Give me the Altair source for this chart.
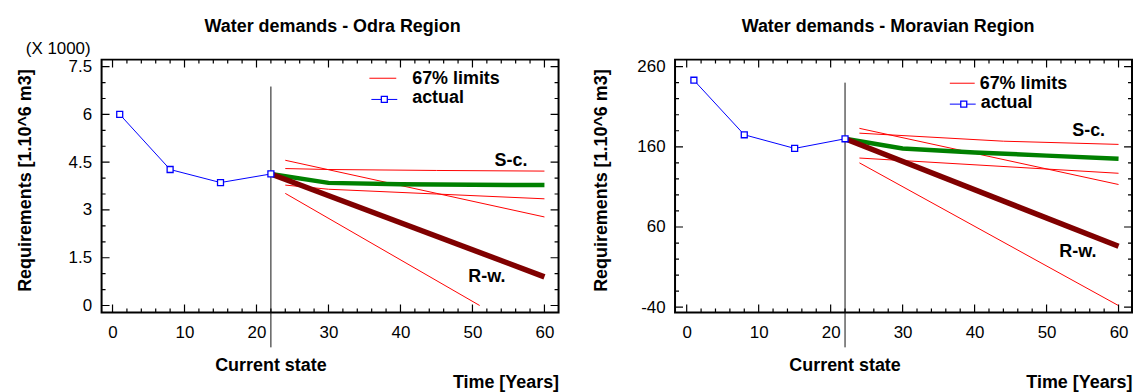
import altair as alt
import pandas as pd

# ---------------- data ----------------
years_actual = [1, 8, 15, 22]
x_major = [0, 10, 20, 30, 40, 50, 60]
x_minor = [2, 4, 6, 8, 12, 14, 16, 18, 22, 24, 26, 28, 32, 34, 36, 38,
           42, 44, 46, 48, 52, 54, 56, 58]

# Odra Region (values x 1000)
odra_actual = [6.0, 4.27, 3.86, 4.13]
odra_sc_years = [22, 30, 40, 50, 60]
odra_sc = [4.13, 3.85, 3.81, 3.79, 3.78]
odra_rw_years = [22, 60]
odra_rw = [4.13, 0.90]
odra_sc_up_years = [24, 30, 45, 60]
odra_sc_up = [4.30, 4.27, 4.24, 4.22]
odra_sc_lo_years = [24, 30, 45, 60]
odra_sc_lo = [3.78, 3.65, 3.50, 3.35]
odra_rw_up_years = [24, 60]
odra_rw_up = [4.56, 2.78]
odra_rw_lo_years = [24, 51]
odra_rw_lo = [3.52, 0.0]
odra_y_major = [0, 1.5, 3, 4.5, 6, 7.5]
odra_y_minor = [0.5, 1, 2, 2.5, 3.5, 4, 5, 5.5, 6.5, 7]

# Moravian Region
morav_actual = [243, 175, 158, 170]
morav_sc_years = [22, 30, 40, 50, 60]
morav_sc = [170, 158, 153, 149, 145]
morav_rw_years = [22, 60]
morav_rw = [170, 36]
morav_sc_up_years = [24, 44, 60]
morav_sc_up = [177, 167, 163]
morav_sc_lo_years = [24, 60]
morav_sc_lo = [146, 127]
morav_rw_up_years = [24, 60]
morav_rw_up = [183, 113]
morav_rw_lo_years = [24, 60]
morav_rw_lo = [140, -38]
morav_y_major = [-40, 60, 160, 260]
morav_y_minor = [-20, 0, 20, 40, 80, 100, 120, 140, 180, 200, 220, 240]

FONT = "Liberation Sans"
W, H = 459, 254
RED, BLUE, GREEN, MAROON = "#FF0000", "#0000FF", "#008000", "#800000"


def lines_df(parts):
    rows = []
    for name, xs_, ys_ in parts:
        for a, b in zip(xs_, ys_):
            rows.append({"x": a, "y": b, "s": name})
    return pd.DataFrame(rows)


def ticks_df(major, minor):
    return pd.DataFrame({"v": list(major) + list(minor),
                         "L": [16] * len(major) + [8] * len(minor)})


def panel(title, title_cx, x_dom, y_dom, actual, sc_x, sc_v, rw_x, rw_v, limits,
          y_major, y_minor, rule_top, sc_at, rw_at, leg, ytitle_x, x1000):
    xs = alt.Scale(domain=x_dom, nice=False, zero=False)
    ys = alt.Scale(domain=y_dom, nice=False, zero=False)
    one = pd.DataFrame({"k": [0]})

    x_axis = alt.Axis(values=x_major, title="Time [Years]", titleX=W, titleY=70,
                      titleAlign="right", titleBaseline="middle", titleAngle=0,
                      titleFont=FONT, titleFontSize=18, titleFontWeight="bold",
                      titleColor="black", labelFont=FONT, labelFontSize=17,
                      labelColor="black", labelPadding=12, labelFlush=False,
                      labelOverlap=False, ticks=False, tickSize=0, domain=False,
                      grid=False)
    y_axis = alt.Axis(values=y_major, title="Requirements [1.10^6 m3]",
                      titleX=ytitle_x, titleY=121, titleAngle=270,
                      titleAlign="center", titleBaseline="middle",
                      titleFont=FONT, titleFontSize=18, titleFontWeight="bold",
                      titleColor="black", labelFont=FONT, labelFontSize=17,
                      labelColor="black", labelPadding=10, labelOverlap=False,
                      labelExpr="datum.value + ''", ticks=False, tickSize=0,
                      domain=False, grid=False)

    def X(f="x:Q"):
        return alt.X(f, scale=xs, axis=x_axis)

    def Y(f="y:Q"):
        return alt.Y(f, scale=ys, axis=y_axis)

    def XD(v):
        return alt.XDatum(v, type="quantitative", scale=xs, axis=x_axis)

    def YD(v):
        return alt.YDatum(v, type="quantitative", scale=ys, axis=y_axis)

    act_df = pd.DataFrame({"x": years_actual, "y": actual})
    lim_df = lines_df(limits)
    sc_df = pd.DataFrame({"x": sc_x, "y": sc_v})
    rw_df = pd.DataFrame({"x": rw_x, "y": rw_v})
    yt = ticks_df(y_major, y_minor)
    xt = ticks_df(x_major, x_minor)

    layers = []
    layers.append(alt.Chart(lim_df).mark_line(color=RED, strokeWidth=1).encode(
        x=X(), y=Y(), detail="s:N"))
    layers.append(alt.Chart(sc_df).mark_line(color=GREEN, strokeWidth=4.5).encode(
        x=X(), y=Y()))
    layers.append(alt.Chart(rw_df).mark_line(color=MAROON, strokeWidth=5.5).encode(
        x=X(), y=Y()))
    layers.append(alt.Chart(one).mark_rule(color="#111111", strokeWidth=1).encode(
        x=XD(22), y=YD(rule_top), y2=alt.value(289)))
    layers.append(alt.Chart(act_df).mark_line(color=BLUE, strokeWidth=1).encode(
        x=X(), y=Y()))
    layers.append(alt.Chart(act_df).mark_point(
        shape="square", size=36, filled=True, fill="white", stroke=BLUE,
        strokeWidth=1.3, opacity=1).encode(x=X(), y=Y()))

    # inward ticks on all four sides
    for xd in x_dom:
        layers.append(alt.Chart(yt).mark_tick(
            orient="horizontal", color="black", thickness=1.2, opacity=1,
            clip=True).encode(
            x=XD(xd), y=Y("v:Q"),
            size=alt.Size("L:Q", scale=None, legend=None)))
    for yd in y_dom:
        layers.append(alt.Chart(xt).mark_tick(
            orient="vertical", color="black", thickness=1.2, opacity=1,
            clip=True).encode(
            x=X("v:Q"), y=YD(yd),
            size=alt.Size("L:Q", scale=None, legend=None)))

    bold = dict(font=FONT, fontSize=18, fontWeight="bold", color="black")
    layers.append(alt.Chart(one).mark_text(
        text=title, align="center", baseline="middle", **bold).encode(
        x=alt.value(title_cx), y=alt.value(-33)))
    layers.append(alt.Chart(one).mark_text(
        text="Current state", align="center", baseline="middle", **bold).encode(
        x=XD(22), y=alt.value(308)))
    layers.append(alt.Chart(one).mark_text(
        text="S-c.", align="center", baseline="middle", **bold).encode(
        x=XD(sc_at[0]), y=YD(sc_at[1])))
    layers.append(alt.Chart(one).mark_text(
        text="R-w.", align="center", baseline="middle", **bold).encode(
        x=XD(rw_at[0]), y=YD(rw_at[1])))

    # legend
    layers.append(alt.Chart(one).mark_rule(color=RED, strokeWidth=1).encode(
        x=alt.value(leg["red"][0]), x2=alt.value(leg["red"][1]),
        y=alt.value(leg["red"][2])))
    layers.append(alt.Chart(one).mark_text(
        text="67% limits", align="left", baseline="middle", **bold).encode(
        x=alt.value(leg["red_txt"][0]), y=alt.value(leg["red_txt"][1])))
    layers.append(alt.Chart(one).mark_rule(color=BLUE, strokeWidth=1).encode(
        x=alt.value(leg["blue"][0]), x2=alt.value(leg["blue"][1]),
        y=alt.value(leg["blue"][2])))
    layers.append(alt.Chart(one).mark_point(
        shape="square", size=36, filled=True, fill="white", stroke=BLUE,
        strokeWidth=1.3, opacity=1).encode(
        x=alt.value(leg["sq"][0]), y=alt.value(leg["sq"][1])))
    layers.append(alt.Chart(one).mark_text(
        text="actual", align="left", baseline="middle", **bold).encode(
        x=alt.value(leg["blue_txt"][0]), y=alt.value(leg["blue_txt"][1])))

    if x1000:
        layers.append(alt.Chart(one).mark_text(
            text="(X 1000)", align="right", baseline="middle", font=FONT,
            fontSize=17, color="black").encode(
            x=alt.value(-11), y=alt.value(-10.5)))

    return alt.layer(*layers).properties(width=W, height=H)


left = panel(
    "Water demands - Odra Region", 232, [-1.52, 61.96], [-0.22, 7.72],
    odra_actual, odra_sc_years, odra_sc, odra_rw_years, odra_rw,
    [("sc_up", odra_sc_up_years, odra_sc_up), ("sc_lo", odra_sc_lo_years, odra_sc_lo),
     ("rw_up", odra_rw_up_years, odra_rw_up), ("rw_lo", odra_rw_lo_years, odra_rw_lo)],
    odra_y_major, odra_y_minor, 6.875, (55.35, 4.55), (52.0, 0.88),
    dict(red=(269, 296, 18.7), red_txt=(312, 19.3), blue=(271, 297, 40),
         sq=(284, 40), blue_txt=(312, 38.7)),
    -76, True)

right = panel(
    "Water demands - Moravian Region", 214, [-1.62, 61.87], [-46.6, 268.7],
    morav_actual, morav_sc_years, morav_sc, morav_rw_years, morav_rw,
    [("sc_up", morav_sc_up_years, morav_sc_up), ("sc_lo", morav_sc_lo_years, morav_sc_lo),
     ("rw_up", morav_rw_up_years, morav_rw_up), ("rw_lo", morav_rw_lo_years, morav_rw_lo)],
    morav_y_major, morav_y_minor, 240, (55.85, 179.4), (54.35, 28.4),
    dict(red=(276, 301, 23.7), red_txt=(306, 24.7), blue=(276, 302, 44.7),
         sq=(290, 44.7), blue_txt=(307, 43.7)),
    -74, False)

chart = alt.hconcat(left, right, spacing=32).properties(
    padding={"left": 8, "top": 8, "right": 0, "bottom": 0},
    background="white",
).configure_view(stroke="black", strokeWidth=2)

chart.save("out.html", embed_options={"renderer": "svg", "actions": False})
